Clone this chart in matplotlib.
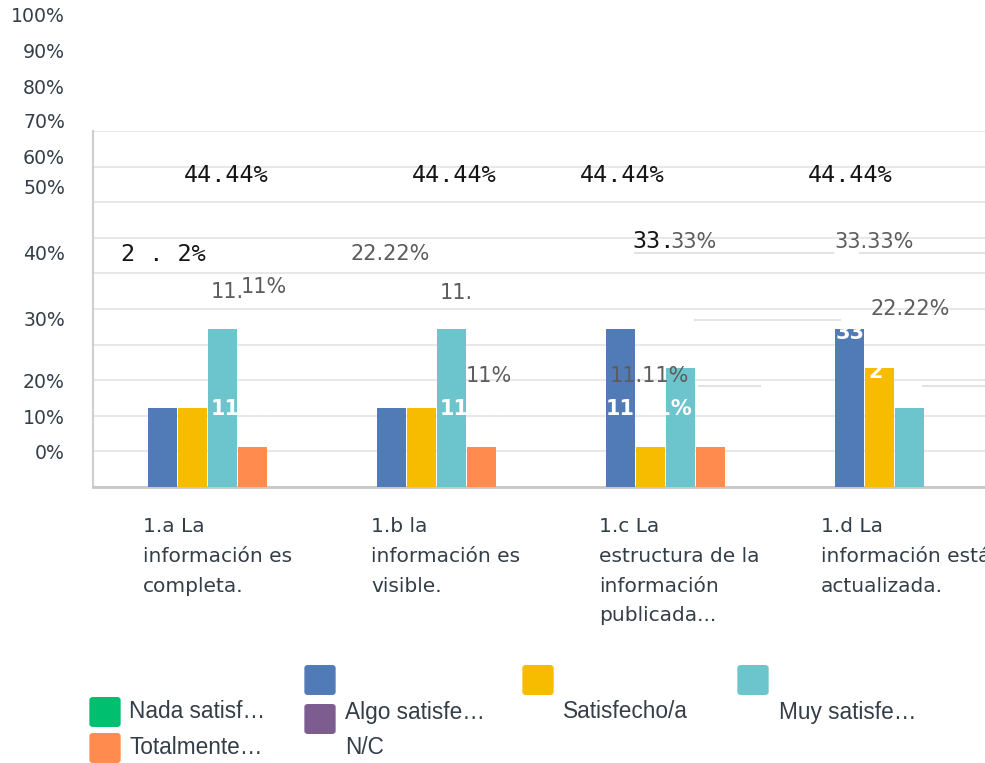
import matplotlib.pyplot as plt
import numpy as np
from matplotlib.patches import FancyBboxPatch
from matplotlib.lines import Line2D

# categories and series (percent of answers)
categories = ["1.a La\ninformación es\ncompleta.",
              "1.b la\ninformación es\nvisible.",
              "1.c La\nestructura de la\ninformación\npublicada...",
              "1.d La\ninformación está\nactualizada."]
algo = [22.22, 22.22, 44.44, 44.44]
satisfecho = [22.22, 22.22, 11.11, 33.33]
muy = [44.44, 44.44, 33.33, 22.22]
totalmente = [11.11, 11.11, 11.11, 0.0]

y_ticks = ["100%", "90%", "80%", "70%", "60%", "50%", "40%", "30%", "20%", "10%", "0%"]
y_tick_pos = [17, 52, 88, 123, 159, 188, 255, 321, 383, 418, 454]

legend_labels = ["Nada satisf…", "Algo satisfe…", "Satisfecho/a", "Muy satisfe…", "Totalmente…", "N/C"]

BLUE, YELLOW, TEAL, ORANGE = "#507bb7", "#f7bc00", "#6cc5cc", "#ff8b4f"
GREEN, PURPLE = "#00bf6f", "#7d5c8f"
TXT = "#333e48"

W, H = 985, 763
fig = plt.figure(figsize=(W / 100, H / 100), dpi=100)


def fx(x):
    return x / W


def fy(y):
    return 1 - y / H


# plot area runs past the right edge, like the cut-off original
ax = fig.add_axes([fx(93), fy(487), 916 / W, 356 / H])
x = np.arange(len(categories))
bw = 0.126
ax.bar(x - 0.197, algo, bw, color=BLUE, zorder=3)
ax.bar(x - 0.066, satisfecho, bw, color=YELLOW, zorder=3)
ax.bar(x + 0.066, muy, bw, color=TEAL, zorder=3)
ax.bar(x + 0.197, totalmente, bw, color=ORANGE, zorder=3)

ax.set_xlim(-0.5, 3.5)
ax.set_ylim(0, 100)
ax.set_yticks(np.arange(0, 101, 10))
ax.set_yticklabels([])
ax.set_xticks([])
ax.tick_params(length=0)
ax.grid(axis="y", color="#e8e8e8", linewidth=1.5, zorder=0)
for s in ["top", "right"]:
    ax.spines[s].set_visible(False)
ax.spines["left"].set_color("#cfcfcf")
ax.spines["left"].set_linewidth(1.5)
ax.spines["bottom"].set_color("#c8c8c8")
ax.spines["bottom"].set_linewidth(2)

# stray y tick labels
for lab, yp in zip(y_ticks, y_tick_pos):
    fig.text(fx(65), fy(yp), lab, ha="right", va="center", fontsize=13.6,
             color=TXT, family="DejaVu Sans")

# ghost gridlines left over from the overlapping export
ghost = [(635, 833, 253), (860, 985, 253), (695, 840, 320),
         (699, 760, 386), (923, 985, 386)]
for x0, x1, yy in ghost:
    fig.add_artist(Line2D([fx(x0), fx(x1)], [fy(yy), fy(yy)],
                          color="#e3e3e3", linewidth=1.5, zorder=1))

# scattered data labels
mono = dict(family="DejaVu Sans Mono", fontsize=16.8, color="#151515", va="center")
gray = dict(family="DejaVu Sans", fontsize=15, color="#5c5c5c", va="center")
for xp in [184, 412, 580, 808]:
    fig.text(fx(xp), fy(175), "44.44%", **mono)
fig.text(fx(121), fy(254), "2 . 2%", **mono)
fig.text(fx(632), fy(242), "33.", **mono)
fig.text(fx(670), fy(242), "33%", **gray)
fig.text(fx(350), fy(254), "22.22%", **gray)
fig.text(fx(211), fy(292), "11.", **gray)
fig.text(fx(241), fy(287), "11%", **gray)
fig.text(fx(440), fy(293), "11.", **gray)
fig.text(fx(466), fy(376), "11%", **gray)
fig.text(fx(610), fy(376), "11.11%", **gray)
fig.text(fx(834), fy(242), "33.33%", **gray)
fig.text(fx(870), fy(309), "22.22%", **gray)

white = dict(family="DejaVu Sans", fontsize=15, color="white", fontweight="bold",
             va="center", zorder=5)
for xp in [211, 440, 606]:
    fig.text(fx(xp), fy(409), "11.11%", **white)
fig.text(fx(836), fy(333), "33", **white)
fig.text(fx(868), fy(372), "2", **white)

# category labels
for xp, cat in zip([143, 371, 599, 821], categories):
    fig.text(fx(xp), fy(517), cat, ha="left", va="top", fontsize=14.5,
             color=TXT, family="DejaVu Sans", linespacing=1.72)


# legend
def swatch(x0, y0, c):
    fig.add_artist(FancyBboxPatch((fx(x0 + 3), fy(y0 + 27)), 24 / W, 24 / H,
                                  boxstyle="round,pad=0.003", color=c,
                                  transform=fig.transFigure))


swatch(305, 665, BLUE)
swatch(523, 665, YELLOW)
swatch(738, 665, TEAL)
swatch(90, 697, GREEN)
swatch(305, 704, PURPLE)
swatch(90, 733, ORANGE)

leg_pos = [(129, 712), (345, 712), (563, 712), (779, 712), (129, 748), (345, 748)]
for lab, (xp, yp) in zip(legend_labels, leg_pos):
    fig.text(fx(xp), fy(yp), lab, ha="left", va="center", fontsize=16.3,
             color=TXT, family="Liberation Sans")

fig.savefig("out.png", dpi=100)
